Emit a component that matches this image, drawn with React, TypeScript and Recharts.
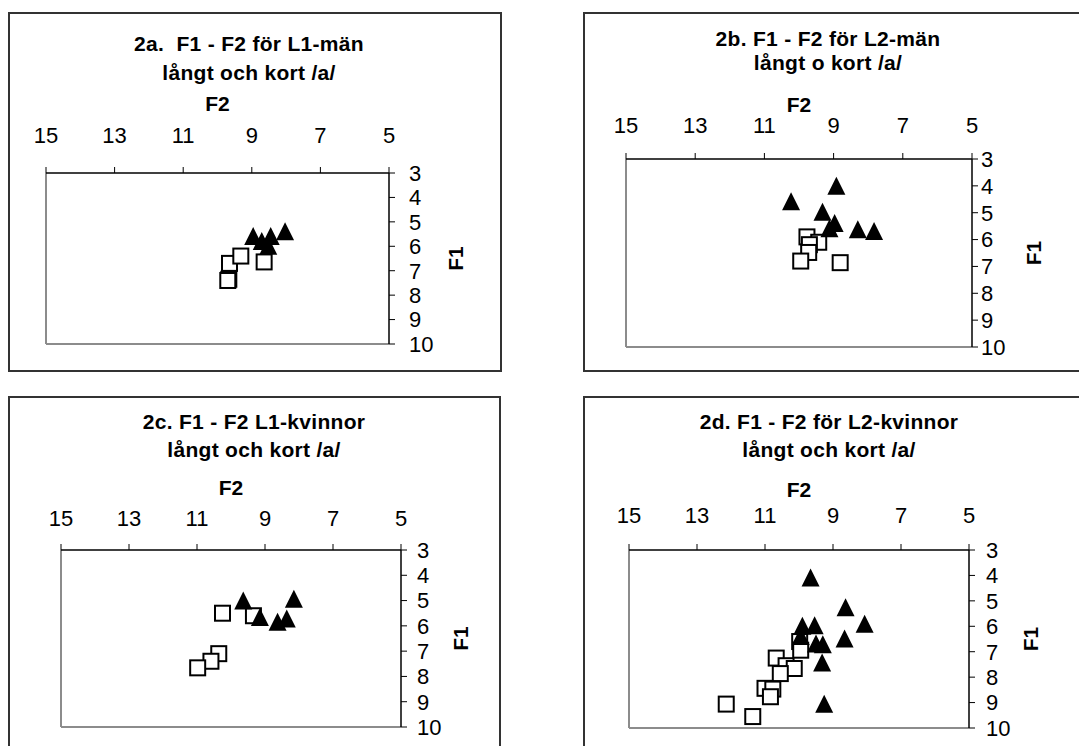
import { ScatterChart, Scatter, XAxis, YAxis, ReferenceLine } from 'recharts'

const FONT = '"Liberation Sans", Arial, Helvetica, sans-serif'

const F2_TICKS = [15, 13, 11, 9, 7, 5]
const F1_TICKS = [3, 4, 5, 6, 7, 8, 9, 10]

// 2a. L1-män
const aLongF2 = [8.96, 8.71, 8.45, 8.03, 8.52]
const aLongF1 = [5.6, 5.8, 5.6, 5.4, 6.0]
const aShortF2 = [9.65, 9.32, 8.64, 9.67, 9.7]
const aShortF1 = [6.7, 6.4, 6.64, 7.35, 7.4]

// 2b. L2-män
const bLongF2 = [8.92, 10.23, 9.32, 8.97, 9.12, 8.3, 7.83]
const bLongF1 = [4.01, 4.59, 4.98, 5.4, 5.6, 5.63, 5.7]
const bShortF2 = [9.77, 9.43, 9.7, 9.72, 9.95, 8.81]
const bShortF1 = [5.9, 6.1, 6.19, 6.48, 6.8, 6.86]

// 2c. L1-kvinnor
const cLongF2 = [9.64, 9.15, 8.63, 8.36, 8.15]
const cLongF1 = [5.02, 5.67, 5.86, 5.73, 4.95]
const cShortF2 = [10.25, 9.34, 10.36, 10.59, 10.98]
const cShortF1 = [5.5, 5.6, 7.1, 7.4, 7.66]

// 2d. L2-kvinnor
const dLongF2 = [9.66, 8.63, 8.07, 9.9, 9.54, 8.66, 9.95, 9.5, 9.3, 9.32, 9.26]
const dLongF1 = [4.1, 5.27, 5.92, 6.0, 5.98, 6.5, 6.4, 6.7, 6.73, 7.44, 9.07]
const dShortF2 = [9.98, 9.95, 10.67, 10.38, 10.14, 10.55, 11.0, 10.77, 10.84, 12.14, 11.36]
const dShortF1 = [6.6, 6.94, 7.25, 7.55, 7.66, 7.86, 8.44, 8.47, 8.77, 9.06, 9.55]

const zip = (f2: number[], f1: number[]) => f2.map((x, i) => ({ f2: x, f1: f1[i] }))

const Triangle = (props: any) => {
  const { cx, cy } = props
  return (
    <polygon
      points={`${cx},${cy - 9.5} ${cx - 9},${cy + 8.5} ${cx + 9},${cy + 8.5}`}
      fill="#000"
    />
  )
}

const Square = (props: any) => {
  const { cx, cy } = props
  return <rect x={cx - 7.5} y={cy - 7.5} width={15} height={15} fill="#fff" stroke="#000" strokeWidth={2} />
}

const XH = 60
const YW = 60

interface PanelProps {
  left: number
  top: number
  w: number
  h: number
  plot: { l: number; r: number; t: number; b: number }
  titles: string[]
  titleX: number
  titleY: number[]
  xGap: number
  yGap: number
  f2Y: number
  f1X: number
  longPts: { f2: number; f1: number }[]
  shortPts: { f2: number; f1: number }[]
}

function Panel(p: PanelProps) {
  const margin = {
    top: p.plot.t - XH,
    right: p.w - p.plot.r - YW,
    bottom: p.h - p.plot.b,
    left: p.plot.l,
  }
  return (
    <>
      <div
        style={{
          position: 'absolute',
          left: p.left,
          top: p.top,
          width: p.w,
          height: p.h,
          border: '2px solid #333',
          boxSizing: 'border-box',
        }}
      />
      <div style={{ position: 'absolute', left: p.left, top: p.top, width: p.w, height: p.h }}>
        {p.titles.map((t, i) => (
          <div
            key={i}
            style={{
              position: 'absolute',
              left: p.titleX,
              top: p.titleY[i],
              transform: 'translate(-50%, -50%)',
              whiteSpace: 'pre',
              fontFamily: FONT,
              fontWeight: 'bold',
              fontSize: 21,
              letterSpacing: 0.3,
              color: '#000',
            }}
          >
            {t}
          </div>
        ))}
        <ScatterChart width={p.w} height={p.h} margin={margin}>
          <XAxis
            type="number"
            dataKey="f2"
            orientation="top"
            domain={[5, 15]}
            reversed
            ticks={F2_TICKS}
            interval={0}
            height={XH}
            tickSize={6}
            tickMargin={p.xGap}
            axisLine={{ stroke: '#000', strokeWidth: 1.5 }}
            tickLine={{ stroke: '#000' }}
            tick={{ fill: '#000', fontSize: 22, fontFamily: FONT }}
            allowDataOverflow
            label={{
              content: (lp: any) => {
                const vb = lp.viewBox || {}
                return (
                  <text
                    x={vb.x + vb.width / 2}
                    y={p.f2Y}
                    textAnchor="middle"
                    dominantBaseline="central"
                    fontFamily={FONT}
                    fontWeight="bold"
                    fontSize={21}
                    fill="#000"
                  >
                    F2
                  </text>
                )
              },
            }}
          />
          <YAxis
            type="number"
            dataKey="f1"
            orientation="right"
            domain={[3, 10]}
            reversed
            ticks={F1_TICKS}
            interval={0}
            width={YW}
            tickSize={6}
            tickMargin={p.yGap}
            axisLine={{ stroke: '#000', strokeWidth: 1.5 }}
            tickLine={{ stroke: '#000' }}
            tick={{ fill: '#000', fontSize: 22, fontFamily: FONT, textAnchor: 'start' }}
            allowDataOverflow
            label={{
              content: (lp: any) => {
                const vb = lp.viewBox || {}
                const cy = vb.y + vb.height / 2
                return (
                  <text
                    x={p.f1X}
                    y={cy}
                    textAnchor="middle"
                    dominantBaseline="central"
                    transform={`rotate(-90 ${p.f1X} ${cy})`}
                    fontFamily={FONT}
                    fontWeight="bold"
                    fontSize={21}
                    fill="#000"
                  >
                    F1
                  </text>
                )
              },
            }}
          />
          <ReferenceLine x={15} stroke="#8c8c8c" strokeWidth={2} />
          <ReferenceLine y={10} stroke="#8c8c8c" strokeWidth={2} />
          <Scatter name="kort" data={p.shortPts} shape={Square} isAnimationActive={false} />
          <Scatter name="långt" data={p.longPts} shape={Triangle} isAnimationActive={false} />
        </ScatterChart>
      </div>
    </>
  )
}

export default function App() {
  return (
    <div
      style={{
        position: 'absolute',
        left: 0,
        top: 0,
        width: 1079,
        height: 746,
        overflow: 'hidden',
        background: '#fff',
      }}
    >
      <Panel
        left={8}
        top={12}
        w={494}
        h={360}
        plot={{ l: 38, r: 381, t: 161, b: 332 }}
        titles={['2a.  F1 - F2 för L1-män', 'långt och kort /a/']}
        titleX={241}
        titleY={[32, 61]}
        xGap={24}
        yGap={14}
        f2Y={91}
        f1X={447}
        longPts={zip(aLongF2, aLongF1)}
        shortPts={zip(aShortF2, aShortF1)}
      />
      <Panel
        left={583}
        top={12}
        w={500}
        h={360}
        plot={{ l: 43, r: 389, t: 147, b: 335 }}
        titles={['2b. F1 - F2 för L2-män', 'långt o kort /a/']}
        titleX={245}
        titleY={[27, 51]}
        xGap={20}
        yGap={3}
        f2Y={92}
        f1X={450}
        longPts={zip(bLongF2, bLongF1)}
        shortPts={zip(bShortF2, bShortF1)}
      />
      <Panel
        left={8}
        top={396}
        w={493}
        h={360}
        plot={{ l: 53, r: 393, t: 154, b: 331 }}
        titles={['2c. F1 - F2 L1-kvinnor', 'långt och kort /a/']}
        titleX={246}
        titleY={[26, 54]}
        xGap={18}
        yGap={10}
        f2Y={91}
        f1X={452}
        longPts={zip(cLongF2, cLongF1)}
        shortPts={zip(cShortF2, cShortF1)}
      />
      <Panel
        left={583}
        top={396}
        w={500}
        h={360}
        plot={{ l: 46, r: 386, t: 154, b: 332 }}
        titles={['2d. F1 - F2 för L2-kvinnor', 'långt och kort /a/']}
        titleX={246}
        titleY={[26, 54]}
        xGap={21}
        yGap={11}
        f2Y={93}
        f1X={447}
        longPts={zip(dLongF2, dLongF1)}
        shortPts={zip(dShortF2, dShortF1)}
      />
    </div>
  )
}
